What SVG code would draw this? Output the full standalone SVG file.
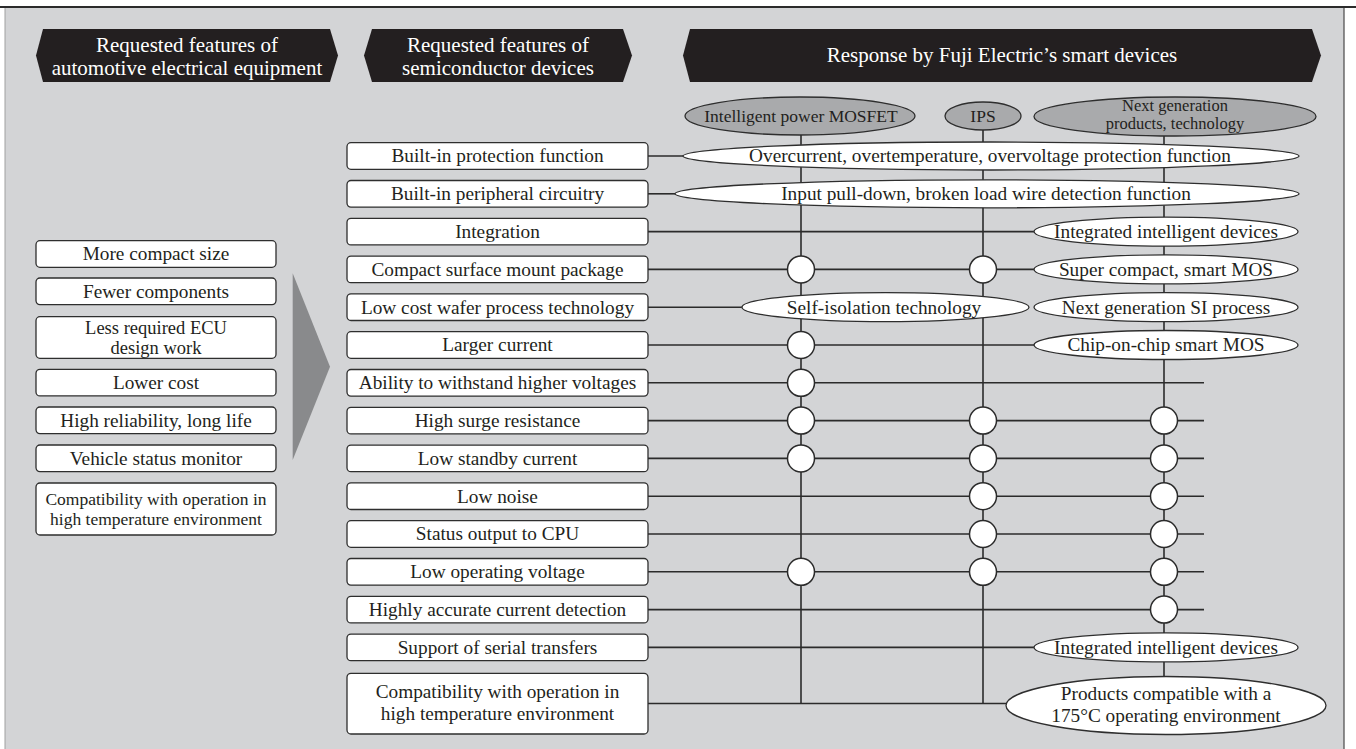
<svg xmlns="http://www.w3.org/2000/svg" width="1356" height="749" viewBox="0 0 1356 749">
<style>
.hdr{fill:#231f20}
.ht{font-family:"Liberation Serif",serif;font-size:21px;fill:#fff;text-anchor:middle}
.box{fill:#fff;stroke:#2e2e2e;stroke-width:1.3}
.bt{font-family:"Liberation Serif",serif;font-size:19.3px;fill:#231f20;text-anchor:middle}
.bs{font-family:"Liberation Serif",serif;font-size:17.5px;fill:#231f20;text-anchor:middle}
.bm{font-family:"Liberation Serif",serif;font-size:18.5px;fill:#231f20;text-anchor:middle}
.ge{fill:#a9aaac;stroke:#2e2e2e;stroke-width:1.3}
.gt{font-family:"Liberation Serif",serif;font-size:17.5px;fill:#231f20;text-anchor:middle}
.gs{font-family:"Liberation Serif",serif;font-size:16.5px;fill:#231f20;text-anchor:middle}
.we{fill:#fff;stroke:#2e2e2e;stroke-width:1.3}
.ln{stroke:#2b2b2b;stroke-width:1.6;fill:none}
.dot{fill:#fff;stroke:#2b2b2b;stroke-width:1.5}
</style>
<rect x="0" y="0" width="1356" height="749" fill="#fff"/>
<rect x="5" y="7" width="1339" height="742" fill="#d3d4d6"/>
<line x1="5" y1="7" x2="5" y2="749" stroke="#a0a0a0" stroke-width="1"/>
<line x1="1344" y1="7" x2="1344" y2="749" stroke="#555" stroke-width="1.3"/>
<line x1="0" y1="7" x2="1356" y2="7" stroke="#2b2b2b" stroke-width="1.8"/>

<g id="header1">
<polygon class="hdr" points="36,55.5 43,29 330,29 338,55.5 330,82 43,82"/>
<text class="ht" x="187" y="52">Requested features of</text>
<text class="ht" x="187" y="75">automotive electrical equipment</text>
</g>
<g id="header2">
<polygon class="hdr" points="364,55.5 372,29 623,29 632,55.5 623,82 372,82"/>
<text class="ht" x="498" y="52">Requested features of</text>
<text class="ht" x="498" y="75">semiconductor devices</text>
</g>
<g id="header3">
<polygon class="hdr" points="683,55.5 690,29 1312,29 1321,55.5 1312,82 690,82"/>
<text class="ht" x="1002" y="62">Response by Fuji Electric’s smart devices</text>
</g>

<g id="arrow">
<polygon points="292.7,273.3 330,366.7 292.7,460" fill="#898a8c"/>
</g>

<g id="connectors">
<line class="ln" x1="801" y1="116" x2="801" y2="703.5"/>
<line class="ln" x1="983" y1="116" x2="983" y2="703.5"/>
<line class="ln" x1="1164" y1="116" x2="1164" y2="690"/>
<line class="ln" x1="648" y1="156" x2="690" y2="156"/>
<line class="ln" x1="648" y1="193.8" x2="680" y2="193.8"/>
<line class="ln" x1="648" y1="231.6" x2="1040" y2="231.6"/>
<line class="ln" x1="648" y1="269.4" x2="1040" y2="269.4"/>
<line class="ln" x1="648" y1="307.2" x2="748" y2="307.2"/>
<line class="ln" x1="648" y1="345" x2="1040" y2="345"/>
<line class="ln" x1="648" y1="382.8" x2="1204" y2="382.8"/>
<line class="ln" x1="648" y1="420.6" x2="1204" y2="420.6"/>
<line class="ln" x1="648" y1="458.4" x2="1204" y2="458.4"/>
<line class="ln" x1="648" y1="496.2" x2="1204" y2="496.2"/>
<line class="ln" x1="648" y1="534" x2="1204" y2="534"/>
<line class="ln" x1="648" y1="571.8" x2="1204" y2="571.8"/>
<line class="ln" x1="648" y1="609.6" x2="1204" y2="609.6"/>
<line class="ln" x1="648" y1="647.4" x2="1040" y2="647.4"/>
<line class="ln" x1="648" y1="703.5" x2="1012" y2="703.5"/>
</g>

<g id="dev-mosfet">
<ellipse class="ge" cx="800" cy="116" rx="115" ry="19"/>
<text class="gt" x="801" y="122">Intelligent power MOSFET</text>
</g>
<g id="dev-ips">
<ellipse class="ge" cx="983" cy="116" rx="38" ry="14"/>
<text class="gt" x="983" y="122">IPS</text>
</g>
<g id="dev-next">
<ellipse class="ge" cx="1175" cy="116.5" rx="141" ry="19.5"/>
<text class="gs" x="1175" y="111">Next generation</text>
<text class="gs" x="1175" y="129.3">products, technology</text>
</g>

<g id="left-features">
<rect class="box" x="36" y="240.7" width="240" height="26.6" rx="4"/>
<text class="bt" x="156" y="260.3">More compact size</text>
<rect class="box" x="36" y="278" width="240" height="26.6" rx="4"/>
<text class="bt" x="156" y="297.6">Fewer components</text>
<rect class="box" x="36" y="316.7" width="240" height="41.6" rx="4"/>
<text class="bm" x="156" y="333.5">Less required ECU</text>
<text class="bm" x="156" y="354">design work</text>
<rect class="box" x="36" y="369.3" width="240" height="26.6" rx="4"/>
<text class="bt" x="156" y="388.9">Lower cost</text>
<rect class="box" x="36" y="407" width="240" height="26.6" rx="4"/>
<text class="bt" x="156" y="426.6">High reliability, long life</text>
<rect class="box" x="36" y="445" width="240" height="26.6" rx="4"/>
<text class="bt" x="156" y="464.6">Vehicle status monitor</text>
<rect class="box" x="36" y="483" width="240" height="52" rx="4"/>
<text class="bs" x="156" y="504.5">Compatibility with operation in</text>
<text class="bs" x="156" y="524.5">high temperature environment</text>
</g>

<g id="semi-features">
<rect class="box" x="347" y="142.7" width="301" height="26.6" rx="4"/>
<text class="bt" x="497.5" y="162.3">Built-in protection function</text>
<rect class="box" x="347" y="180.5" width="301" height="26.6" rx="4"/>
<text class="bt" x="497.5" y="200.1">Built-in peripheral circuitry</text>
<rect class="box" x="347" y="218.3" width="301" height="26.6" rx="4"/>
<text class="bt" x="497.5" y="237.9">Integration</text>
<rect class="box" x="347" y="256.1" width="301" height="26.6" rx="4"/>
<text class="bt" x="497.5" y="275.7">Compact surface mount package</text>
<rect class="box" x="347" y="293.9" width="301" height="26.6" rx="4"/>
<text class="bt" x="497.5" y="313.5">Low cost wafer process technology</text>
<rect class="box" x="347" y="331.7" width="301" height="26.6" rx="4"/>
<text class="bt" x="497.5" y="351.3">Larger current</text>
<rect class="box" x="347" y="369.5" width="301" height="26.6" rx="4"/>
<text class="bt" x="497.5" y="389.1">Ability to withstand higher voltages</text>
<rect class="box" x="347" y="407.3" width="301" height="26.6" rx="4"/>
<text class="bt" x="497.5" y="426.9">High surge resistance</text>
<rect class="box" x="347" y="445.1" width="301" height="26.6" rx="4"/>
<text class="bt" x="497.5" y="464.7">Low standby current</text>
<rect class="box" x="347" y="482.9" width="301" height="26.6" rx="4"/>
<text class="bt" x="497.5" y="502.5">Low noise</text>
<rect class="box" x="347" y="520.7" width="301" height="26.6" rx="4"/>
<text class="bt" x="497.5" y="540.3">Status output to CPU</text>
<rect class="box" x="347" y="558.5" width="301" height="26.6" rx="4"/>
<text class="bt" x="497.5" y="578.1">Low operating voltage</text>
<rect class="box" x="347" y="596.3" width="301" height="26.6" rx="4"/>
<text class="bt" x="497.5" y="615.9">Highly accurate current detection</text>
<rect class="box" x="347" y="634.1" width="301" height="26.6" rx="4"/>
<text class="bt" x="497.5" y="653.7">Support of serial transfers</text>
<rect class="box" x="347" y="673.3" width="301" height="60.7" rx="4"/>
<text class="bt" x="497.5" y="698">Compatibility with operation in</text>
<text class="bt" x="497.5" y="720">high temperature environment</text>
</g>

<g id="responses">
<ellipse class="we" cx="991" cy="156" rx="308" ry="14"/>
<text class="bt" x="990" y="162.3">Overcurrent, overtemperature, overvoltage protection function</text>
<ellipse class="we" cx="987" cy="193.8" rx="312" ry="14"/>
<text class="bt" x="986" y="200.1">Input pull-down, broken load wire detection function</text>
<ellipse class="we" cx="1166" cy="231.6" rx="132" ry="14.5"/>
<text class="bt" x="1166" y="237.9">Integrated intelligent devices</text>
<ellipse class="we" cx="1166" cy="269.4" rx="132" ry="14.5"/>
<text class="bt" x="1166" y="275.7">Super compact, smart MOS</text>
<ellipse class="we" cx="885.5" cy="307.2" rx="143.5" ry="14.5"/>
<text class="bt" x="884" y="313.5">Self-isolation technology</text>
<ellipse class="we" cx="1166" cy="307.2" rx="132" ry="14.5"/>
<text class="bt" x="1166" y="313.5">Next generation SI process</text>
<ellipse class="we" cx="1166" cy="345" rx="132" ry="14.5"/>
<text class="bt" x="1166" y="351.3">Chip-on-chip smart MOS</text>
<ellipse class="we" cx="1166" cy="647.4" rx="132" ry="14.5"/>
<text class="bt" x="1166" y="653.7">Integrated intelligent devices</text>
<ellipse class="we" cx="1166" cy="705.5" rx="160" ry="29"/>
<text class="bt" x="1166" y="699.5">Products compatible with a</text>
<text class="bt" x="1166" y="721.5">175°C operating environment</text>
</g>

<g id="marks">
<circle class="dot" cx="801" cy="269.4" r="13.5"/>
<circle class="dot" cx="983" cy="269.4" r="13.5"/>
<circle class="dot" cx="801" cy="345" r="13.5"/>
<circle class="dot" cx="801" cy="382.8" r="13.5"/>
<circle class="dot" cx="801" cy="420.6" r="13.5"/>
<circle class="dot" cx="983" cy="420.6" r="13.5"/>
<circle class="dot" cx="1164" cy="420.6" r="13.5"/>
<circle class="dot" cx="801" cy="458.4" r="13.5"/>
<circle class="dot" cx="983" cy="458.4" r="13.5"/>
<circle class="dot" cx="1164" cy="458.4" r="13.5"/>
<circle class="dot" cx="983" cy="496.2" r="13.5"/>
<circle class="dot" cx="1164" cy="496.2" r="13.5"/>
<circle class="dot" cx="983" cy="534" r="13.5"/>
<circle class="dot" cx="1164" cy="534" r="13.5"/>
<circle class="dot" cx="801" cy="571.8" r="13.5"/>
<circle class="dot" cx="983" cy="571.8" r="13.5"/>
<circle class="dot" cx="1164" cy="571.8" r="13.5"/>
<circle class="dot" cx="1164" cy="609.6" r="13.5"/>
</g>
</svg>
